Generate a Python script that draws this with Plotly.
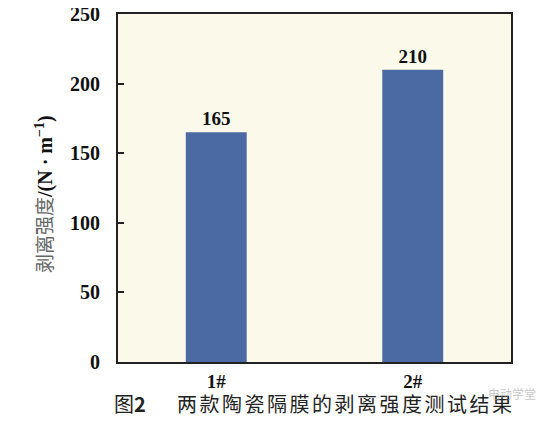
import plotly.graph_objects as go

categories = ["1#", "2#"]
values = [165, 210]
y_ticks = [0, 50, 100, 150, 200, 250]

serif = "Liberation Serif, Times New Roman, serif"
cjk = "Noto Sans CJK SC"

# the page body has an 8px default margin, so the figure is drawn 8px in
OFF = 8
W, H = 554 - OFF, 422 - OFF
L, R, T, B = 118 - OFF, 43, 14 - OFF, 60
PW, PH = W - L - R, H - T - B


def px(x):
    return (x - OFF - L) / PW


def py(y):
    return (H - B - (y - OFF)) / PH


fig = go.Figure()
fig.add_trace(go.Bar(
    x=categories, y=values,
    marker=dict(color="#4B69A2", line=dict(width=0)),
    width=0.31,
    texttemplate="<b>%{y}</b>",
    textposition="outside",
    textfont=dict(family=serif, size=19, color="#111111"),
    cliponaxis=False,
))

fig.update_layout(
    width=W, height=H,
    margin=dict(l=L, r=R, t=T, b=B, autoexpand=False),
    paper_bgcolor="white",
    plot_bgcolor="#FAF9EA",
    showlegend=False,
    xaxis=dict(
        range=[-0.5, 1.5], automargin=False,
        tickvals=categories, ticktext=[f"<b>{c}</b>" for c in categories],
        showline=True, linecolor="#222222", linewidth=2, mirror=True,
        ticks="", showgrid=False,
        tickfont=dict(family=serif, size=19, color="#111111"),
        ticklabelstandoff=1,
    ),
    yaxis=dict(
        range=[0, 250], automargin=False,
        tickvals=y_ticks, ticktext=[f"<b>{v}</b>" for v in y_ticks],
        ticklabeloverflow="allow",
        showline=True, linecolor="#222222", linewidth=2, mirror=True,
        ticks="inside", ticklen=6, tickwidth=2, tickcolor="#222222",
        showgrid=False, zeroline=False,
        tickfont=dict(family=serif, size=20, color="#111111"),
        ticklabelstandoff=12,
    ),
)

# y-axis title
fig.add_annotation(
    x=px(44), y=py(194), xref="paper", yref="paper", showarrow=False, textangle=-90,
    xanchor="center", yanchor="middle",
    text="<span style='font-family:Noto Sans CJK SC;color:#666666;font-size:19px'>剥离强度</span>"
         "<b>/(N · m<sup>−1</sup>)</b>",
    font=dict(family=serif, size=20, color="#111111"),
)

# caption
fig.add_annotation(
    x=px(130), y=py(404), xref="paper", yref="paper", showarrow=False,
    xanchor="center", yanchor="middle",
    text="图<b>2</b>",
    font=dict(family=cjk, size=20, color="#222222"),
)
fig.add_annotation(
    x=px(346), y=py(404), xref="paper", yref="paper", showarrow=False,
    xanchor="center", yanchor="middle",
    text="<span style='letter-spacing:2.5px'>两款陶瓷隔膜的剥离强度测试结果</span>",
    font=dict(family=cjk, size=20, color="#222222"),
)
# watermark
fig.add_annotation(
    x=px(512), y=py(394), xref="paper", yref="paper", showarrow=False,
    xanchor="center", yanchor="middle",
    text="电动学堂",
    font=dict(family=cjk, size=12, color="rgba(160,160,160,0.6)"),
)

fig.write_html("out.html")
